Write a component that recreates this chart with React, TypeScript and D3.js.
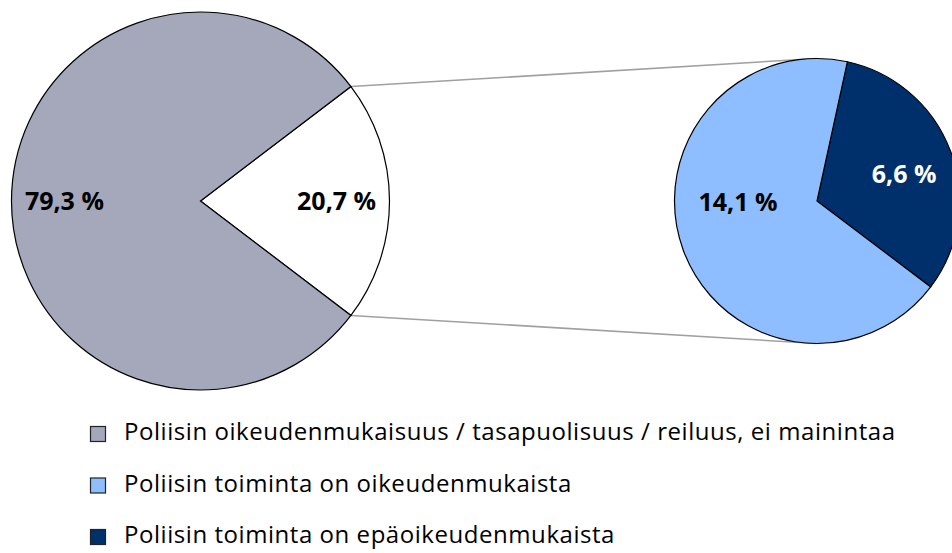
import React, { useEffect, useRef } from 'react';
import * as d3 from 'd3';

// main pie
const mainLabels = ['20,7 %', '79,3 %'];
const mainValues = [20.7, 79.3];
// breakdown of the 20,7 % slice
const subLabels = ['6,6 %', '14,1 %'];
const subValues = [6.6, 14.1];

const legendItems = [
  'Poliisin oikeudenmukaisuus / tasapuolisuus / reiluus, ei mainintaa',
  'Poliisin toiminta on oikeudenmukaista',
  'Poliisin toiminta on epäoikeudenmukaista',
];

const W = 952, H = 553;
const FONT = '"Open Sans", "DejaVu Sans", sans-serif';

const App = () => {
  const ref = useRef<SVGSVGElement>(null);

  useEffect(() => {
    document.body.style.margin = '0';
    const svg = d3.select(ref.current);
    svg.selectAll('*').remove();

    const colors = { gray: '#a5a7bb', white: '#ffffff', light: '#8ebeff', dark: '#00306b' };

    // left pie
    const c1 = { x: 200.5, y: 201 }, r1 = 189;
    const total = d3.sum(mainValues);
    const share = mainValues[0] / total;
    const pie1 = d3.pie<number>().sort(null)
      .startAngle(Math.PI / 2 - Math.PI * share)
      .endAngle(Math.PI / 2 - Math.PI * share + 2 * Math.PI);
    const arcs1 = pie1(mainValues);
    const arc1 = d3.arc<d3.PieArcDatum<number>>().innerRadius(0).outerRadius(r1);

    // right pie
    const c2 = { x: 817, y: 201 }, r2 = 142.5;
    const rot = (12.3 * Math.PI) / 180;
    const pie2 = d3.pie<number>().sort(null).startAngle(rot).endAngle(rot + 2 * Math.PI);
    const arcs2 = pie2(subValues);
    const arc2 = d3.arc<d3.PieArcDatum<number>>().innerRadius(0).outerRadius(r2);

    // connector lines
    const a0 = arcs1[0].startAngle, a1 = arcs1[0].endAngle;
    const p0 = d3.pointRadial(a0, r1), p1 = d3.pointRadial(a1, r1);
    svg.append('line')
      .attr('x1', c1.x + p0[0]).attr('y1', c1.y + p0[1])
      .attr('x2', c2.x).attr('y2', c2.y - r2)
      .attr('stroke', '#a0a0a0').attr('stroke-width', 1.6);
    svg.append('line')
      .attr('x1', c1.x + p1[0]).attr('y1', c1.y + p1[1])
      .attr('x2', c2.x).attr('y2', c2.y + r2)
      .attr('stroke', '#a0a0a0').attr('stroke-width', 1.6);

    const g1 = svg.append('g').attr('transform', `translate(${c1.x},${c1.y})`);
    g1.selectAll('path')
      .data(arcs1)
      .join('path')
      .attr('d', arc1)
      .attr('fill', (d, i) => (i === 0 ? colors.white : colors.gray))
      .attr('stroke', '#000').attr('stroke-width', 1.2);

    const lab1 = d3.arc<d3.PieArcDatum<number>>().innerRadius(r1 * 0.72).outerRadius(r1 * 0.72);
    g1.selectAll('text')
      .data(arcs1)
      .join('text')
      .attr('x', d => lab1.centroid(d)[0])
      .attr('y', d => lab1.centroid(d)[1] + 9)
      .attr('text-anchor', 'middle')
      .attr('font-family', FONT)
      .attr('font-weight', 'bold')
      .attr('font-size', 25)
      .attr('fill', '#000')
      .text((d, i) => mainLabels[i]);

    const g2 = svg.append('g').attr('transform', `translate(${c2.x},${c2.y})`);
    g2.selectAll('path')
      .data(arcs2)
      .join('path')
      .attr('d', arc2)
      .attr('fill', (d, i) => (i === 0 ? colors.dark : colors.light))
      .attr('stroke', '#000').attr('stroke-width', 1.2);

    // label placement (angle in degrees, radius fraction)
    const subLabelPos = [[72.7, 0.64], [269, 0.555]];
    g2.selectAll('text')
      .data(arcs2)
      .join('text')
      .attr('x', (d, i) => d3.pointRadial((subLabelPos[i][0] * Math.PI) / 180, r2 * subLabelPos[i][1])[0])
      .attr('y', (d, i) => d3.pointRadial((subLabelPos[i][0] * Math.PI) / 180, r2 * subLabelPos[i][1])[1] + 9)
      .attr('text-anchor', 'middle')
      .attr('font-family', FONT)
      .attr('font-weight', 'bold')
      .attr('font-size', 25)
      .attr('fill', (d, i) => (i === 0 ? '#fff' : '#000'))
      .text((d, i) => subLabels[i]);

    // legend
    const legendColors = [colors.gray, colors.light, colors.dark];
    const ly = d3.scalePoint<number>().domain([0, 1, 2]).range([434, 537]);
    const lg = svg.append('g');
    const item = lg.selectAll('g')
      .data(legendItems)
      .join('g')
      .attr('transform', (d, i) => `translate(90,${ly(i)})`);
    item.append('rect')
      .attr('x', 0.5).attr('y', -7.5)
      .attr('width', 15).attr('height', 15)
      .attr('fill', (d, i) => legendColors[i])
      .attr('stroke', '#222').attr('stroke-width', 1.2);
    item.append('text')
      .attr('x', 34).attr('y', 6)
      .attr('font-family', FONT)
      .attr('font-size', 24)
      .attr('letter-spacing', 0.55)
      .attr('fill', '#000')
      .text(d => d);
  }, []);

  return <svg ref={ref} width={W} height={H} style={{ display: 'block' }} />;
};

export default App;
